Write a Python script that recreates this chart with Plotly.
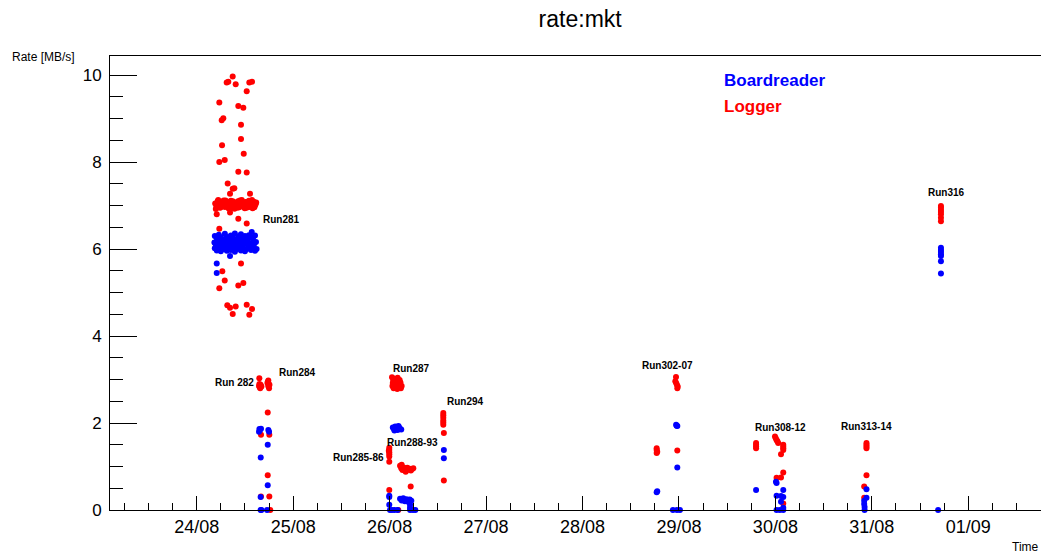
import pandas as pd
import plotly.graph_objects as go

START = pd.Timestamp("2018-08-24 00:00")  # hours below are measured from 24/08 00:00

# ---------------- Logger (red) : hours, rate [MB/s] ----------------
log_run281_h = [8.95, 7.86, 7.46, 9.70, 13.09, 13.76, 12.44, 5.62, 10.35, 11.60, 6.62, 6.22, 11.02, 11.02,
                6.30, 11.70, 6.97, 5.62, 10.35, 12.44, 7.71, 9.36, 8.96, 13.26, 8.29, 4.98, 8.29, 10.35,
                12.44, 5.62, 11.02, 6.37, 6.97, 11.60, 10.35, 5.62, 7.61, 8.29, 9.70, 12.44, 13.76, 8.96, 13.09,
                4.6, 4.9, 5.2, 5.5, 5.8, 6.1, 6.4, 6.7, 7.0, 7.3, 7.6, 7.9, 8.2, 8.5, 8.8, 9.1, 9.4, 9.7,
                10.0, 10.3, 10.6, 10.9, 11.2, 11.5, 11.8, 12.1, 12.4, 12.7, 13.0, 13.3, 13.6, 13.9, 14.2,
                14.5, 14.8, 4.75, 5.35, 5.95, 6.55, 7.15, 7.75, 8.35, 8.95, 9.55, 10.15, 10.75, 11.35,
                11.95, 12.55, 13.15, 13.75, 14.35, 14.65]
log_run281_v = [9.97, 9.85, 9.83, 9.79, 9.83, 9.85, 9.63, 9.37, 9.29, 9.25, 9.01, 8.96, 8.86, 8.53,
                8.39, 8.19, 8.05, 8.00, 7.78, 7.76, 7.51, 7.40, 7.39, 7.27, 7.27, 6.80, 6.84, 6.70,
                6.59, 6.47, 5.67, 5.49, 5.28, 5.22, 5.16, 5.10, 4.71, 4.65, 4.68, 4.72, 4.62, 4.51, 4.49,
                7.05, 6.98, 7.10, 7.02, 6.95, 7.08, 7.00, 7.12, 6.97, 7.04, 7.09, 6.94, 7.03, 7.11, 6.99,
                7.06, 6.93, 7.07, 7.01, 7.10, 6.96, 7.05, 7.13, 6.98, 7.02, 7.08, 6.95, 7.04, 7.11, 6.99,
                7.06, 6.94, 7.09, 7.01, 7.07, 6.92, 7.13, 6.96, 7.07, 7.12, 6.99, 6.93, 7.10, 7.03, 6.95,
                7.12, 7.00, 6.94, 7.08, 6.97, 7.13, 6.96, 7.03]
log_run282_h = [15.58, 17.82, 15.5, 15.6, 15.7, 15.9, 16.1, 17.6, 17.8, 18.0, 18.1, 17.7, 15.8, 17.9,
                17.67, 16.0, 18.07, 17.67, 16.0, 18.07, 18.3]
log_run282_v = [3.03, 2.98, 2.85, 2.90, 2.82, 2.88, 2.84, 2.92, 2.85, 2.80, 2.88, 2.95, 2.80, 2.90,
                2.24, 1.73, 1.73, 0.80, 0.31, 0.31, 0.0]
log_run285_h = [47.92, 47.92, 47.8, 47.92, 47.92, 47.92, 47.92, 47.92,
                48.6, 48.9, 49.2, 49.5, 49.8, 50.1, 50.4, 50.7, 51.0, 48.7, 49.0, 49.3, 49.6, 49.9, 50.2,
                50.5, 50.8, 48.8, 50.0,
                50.6, 50.9, 51.2, 51.5, 51.8, 52.1, 52.4, 52.7, 53.0, 53.3, 53.6, 53.9, 51.0, 52.0,
                53.25, 50.16]
log_run285_v = [1.43, 1.38, 1.36, 1.33, 1.28, 1.23, 1.11, 0.46,
                3.05, 2.98, 3.02, 2.95, 2.90, 2.97, 2.88, 2.93, 2.85, 2.85, 2.80, 2.90, 2.83, 2.78, 2.84,
                2.99, 2.80, 2.92, 3.04,
                1.02, 0.96, 0.92, 0.98, 0.94, 0.90, 0.97, 0.93, 0.95, 0.91, 0.94, 0.96, 1.04, 0.88,
                0.54, 0.0]
log_run294_h = [61.36, 61.36, 61.36, 61.36, 61.36, 61.36, 61.5, 61.5]
log_run294_v = [2.23, 2.18, 2.12, 2.06, 2.01, 1.96, 1.77, 0.68]
log_run302_h = [114.46, 114.46, 114.6, 114.46, 119.27, 119.1, 119.3, 119.5, 119.7, 119.6, 119.59]
log_run302_v = [1.42, 1.38, 1.34, 1.31, 3.06, 2.96, 2.92, 2.88, 2.84, 2.80, 1.37]
log_run308_h = [139.2, 139.2, 139.2, 139.2, 143.9, 144.1, 144.3, 144.5, 144.7, 145.96, 145.96, 145.96,
                145.96, 145.4, 145.96, 145.4, 144.3, 145.96]
log_run308_v = [1.54, 1.50, 1.46, 1.42, 1.69, 1.65, 1.61, 1.58, 1.54, 1.50, 1.46, 1.42,
                1.38, 1.28, 0.86, 0.75, 0.74, 0.15]
log_run313_h = [166.67, 166.67, 166.67, 166.67, 166.67, 166.1, 166.1]
log_run313_v = [1.54, 1.50, 1.46, 1.42, 0.80, 0.54, 0.28]
log_run316_h = [185.2, 185.2, 185.2, 185.2, 185.2, 185.2, 185.2]
log_run316_v = [6.99, 6.95, 6.90, 6.85, 6.80, 6.72, 6.64]

# ---------------- Boardreader (blue) ----------------
br_run281_h = [4.5, 5.0, 5.5, 6.0, 6.5, 7.0, 7.5, 8.0, 8.5, 9.0, 9.5, 10.0, 10.5, 11.0, 11.5, 12.0, 12.5,
               13.0, 13.5, 14.0, 14.5,
               4.4, 4.75, 5.25, 5.75, 6.25, 6.75, 7.25, 7.75, 8.25, 8.75, 9.25, 9.75, 10.25, 10.75, 11.25,
               11.75, 12.25, 12.75, 13.25, 13.75, 14.25, 14.75,
               4.5, 5.0, 5.5, 6.0, 6.5, 7.0, 7.5, 8.0, 8.5, 9.0, 9.5, 10.0, 10.5, 11.0, 11.5, 12.0, 12.5,
               13.0, 13.5, 14.0, 14.5, 14.9,
               13.69, 8.29, 4.98, 4.98]
br_run281_v = [6.30, 6.25, 6.33, 6.27, 6.22, 6.35, 6.28, 6.24, 6.31, 6.26, 6.36, 6.23, 6.29, 6.34, 6.25,
               6.30, 6.22, 6.32, 6.27, 6.24, 6.31,
               6.15, 6.10, 6.18, 6.12, 6.08, 6.16, 6.11, 6.19, 6.09, 6.14, 6.17, 6.10, 6.13, 6.18, 6.08,
               6.15, 6.12, 6.17, 6.09, 6.14, 6.11, 6.16,
               6.02, 5.97, 6.04, 5.95, 6.00, 6.05, 5.96, 6.01, 5.98, 6.03, 5.94, 6.00, 6.04, 5.97, 6.02,
               5.95, 6.01, 6.05, 5.98, 6.03, 5.96, 6.00,
               6.39, 5.84, 5.67, 5.45]
br_run282_h = [15.75, 17.82, 15.5, 16.0, 18.0, 15.6, 17.67, 15.93, 17.67, 15.9, 15.9, 17.5, 16.1]
br_run282_v = [1.84, 1.84, 1.80, 1.87, 1.80, 1.86, 1.50, 1.21, 0.57, 0.30, 0.0, 0.0, 0.0]
br_run285_h = [48.8, 49.1, 49.4, 49.7, 50.0, 50.3, 50.6, 50.9, 49.2, 50.2,
               47.92, 47.92, 47.92, 48.1, 48.6, 49.2, 50.0,
               50.6, 51.0, 51.4, 51.8, 52.2, 52.6, 53.0, 53.4, 53.08, 53.08, 53.1, 53.8, 54.4]
br_run285_v = [1.90, 1.86, 1.92, 1.88, 1.84, 1.91, 1.87, 1.85, 1.83, 1.93,
               0.33, 0.30, 0.12, 0.0, 0.0, 0.0, 0.0,
               0.26, 0.22, 0.27, 0.20, 0.25, 0.19, 0.24, 0.21, 0.12, 0.05, 0.0, 0.0, 0.0]
br_run294_h = [61.5, 61.5]
br_run294_v = [1.38, 1.19]
br_run302_h = [114.46, 114.6, 119.43, 119.3, 119.6, 119.59, 118.5, 119.5, 120.25]
br_run302_v = [0.41, 0.43, 1.94, 1.96, 1.93, 0.98, 0.0, 0.0, 0.0]
br_run308_h = [139.2, 144.15, 144.3, 145.96, 144.3, 145.4, 145.96, 145.4, 145.96, 144.3, 145.1, 145.96]
br_run308_v = [0.46, 0.65, 0.62, 0.46, 0.33, 0.32, 0.30, 0.19, 0.05, 0.0, 0.0, 0.0]
br_run313_h = [166.67, 166.67, 166.1, 166.1, 166.2, 166.2]
br_run313_v = [0.48, 0.28, 0.21, 0.14, 0.07, 0.0]
br_run316_h = [185.2, 185.2, 185.2, 185.2, 185.2, 185.2, 185.2, 184.5]
br_run316_v = [6.03, 5.98, 5.93, 5.88, 5.84, 5.72, 5.44, 0.0]

# ---------------- Run labels ----------------
run_labels = ["Run281", "Run 282", "Run284", "Run287", "Run294", "Run288-93", "Run285-86",
              "Run302-07", "Run308-12", "Run313-14", "Run316"]
run_label_h = [20.98, 9.28, 24.96, 53.5, 66.89, 53.82, 40.31, 117.2, 145.27, 166.62, 186.6]
run_label_v = [6.68, 2.93, 3.16, 3.26, 2.50, 1.55, 1.21, 3.32, 1.90, 1.92, 7.31]

x_range_h = [-21.58, 210.1]
y_range = [0, 10.44]


def to_time(hours):
    return [START + pd.Timedelta(hours=h) for h in hours]


log_h = (log_run281_h + log_run282_h + log_run285_h + log_run294_h + log_run302_h +
         log_run308_h + log_run313_h + log_run316_h)
log_v = (log_run281_v + log_run282_v + log_run285_v + log_run294_v + log_run302_v +
         log_run308_v + log_run313_v + log_run316_v)
br_h = (br_run281_h + br_run282_h + br_run285_h + br_run294_h + br_run302_h +
        br_run308_h + br_run313_h + br_run316_h)
br_v = (br_run281_v + br_run282_v + br_run285_v + br_run294_v + br_run302_v +
        br_run308_v + br_run313_v + br_run316_v)

FONT = "Liberation Sans, Arial, Helvetica, sans-serif"
W, H = 1041, 554

fig = go.Figure()
fig.add_trace(go.Scatter(x=to_time(log_h), y=log_v, mode="markers", name="Logger",
                         marker=dict(color="#ff0000", size=6, line=dict(width=0)), cliponaxis=False))
fig.add_trace(go.Scatter(x=to_time(br_h), y=br_v, mode="markers", name="Boardreader",
                         marker=dict(color="#0000ff", size=6, line=dict(width=0)), cliponaxis=False))

annotations = []
for txt, h, v in zip(run_labels, run_label_h, run_label_v):
    annotations.append(dict(x=START + pd.Timedelta(hours=h), y=v, xref="x", yref="y", text=f"<b>{txt}</b>",
                            showarrow=False, font=dict(family=FONT, size=10, color="black"),
                            xanchor="center", yanchor="middle"))
annotations += [
    dict(x=0.657, y=0.9456, xref="paper", yref="paper", text="<b>Boardreader</b>", showarrow=False,
         xanchor="left", yanchor="middle", font=dict(family=FONT, size=17, color="#0000ff")),
    dict(x=0.657, y=0.8888, xref="paper", yref="paper", text="<b>Logger</b>", showarrow=False,
         xanchor="left", yanchor="middle", font=dict(family=FONT, size=17, color="#ff0000")),
    dict(x=-0.1074, y=0.9985, xref="paper", yref="paper", text="Rate [MB/s]", showarrow=False,
         xanchor="left", yanchor="middle", font=dict(family=FONT, size=12, color="black")),
    dict(x=1.0, y=-0.0815, xref="paper", yref="paper", text="Time", showarrow=False,
         xanchor="right", yanchor="middle", font=dict(family=FONT, size=12, color="black")),
]

fig.update_layout(
    width=W, height=H, autosize=False,
    margin=dict(l=110, r=0, t=56, b=44),
    paper_bgcolor="white", plot_bgcolor="white",
    showlegend=False,
    title=dict(text="rate:mkt", x=0.505, xref="paper", y=1 - 19 / H, yref="container",
               xanchor="center", yanchor="middle", font=dict(family=FONT, size=23, color="black")),
    annotations=annotations,
    font=dict(family=FONT, color="black"),
)
fig.update_xaxes(
    type="date", range=to_time(x_range_h),
    tick0=START, dtick=86400000, tickformat="%d/%m",
    ticks="inside", ticklen=14, tickwidth=1, tickcolor="black",
    minor=dict(ticks="inside", ticklen=7, dtick=6 * 3600000, tickcolor="black", tickwidth=1, showgrid=False),
    showline=True, linecolor="black", linewidth=1, mirror=True,
    showgrid=False, zeroline=False,
    tickfont=dict(family=FONT, size=18, color="black"),
)
fig.update_yaxes(
    range=y_range, tick0=0, dtick=2,
    ticks="inside", ticklen=27, tickwidth=1, tickcolor="black",
    minor=dict(ticks="inside", ticklen=13, dtick=0.5, tickcolor="black", tickwidth=1, showgrid=False),
    showline=True, linecolor="black", linewidth=1,
    showgrid=False, zeroline=False, ticklabelstandoff=4,
    tickfont=dict(family=FONT, size=17, color="black"),
)

fig.write_html("out.html", config={"displayModeBar": False},
               post_script="document.body.style.margin='0';document.body.style.overflow='hidden';")
